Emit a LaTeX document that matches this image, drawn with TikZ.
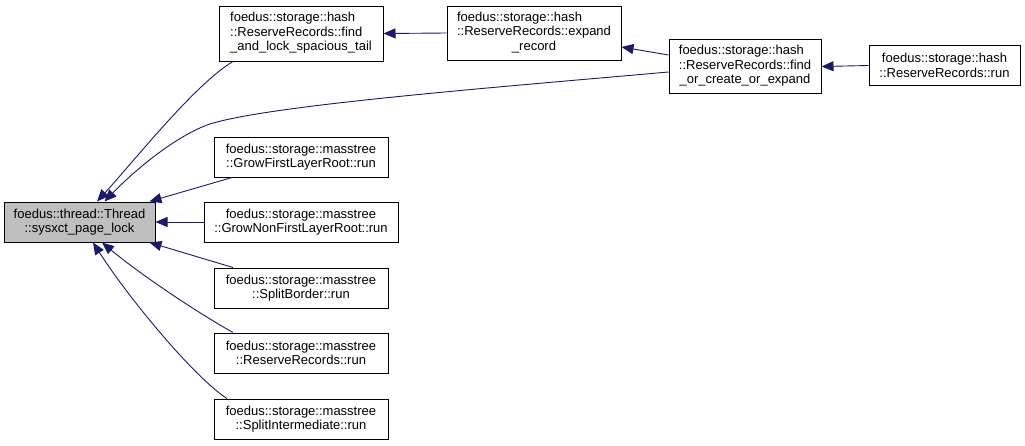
\documentclass[tikz,border=0pt]{standalone}
\usepackage{fontspec}
\setmainfont{Liberation Sans}
\usetikzlibrary{arrows.meta}
\definecolor{edgeblue}{HTML}{191970}
\definecolor{nodegray}{HTML}{BFBFBF}
\tikzset{
  box/.style={draw=black, line width=1pt, fill=white, inner sep=0pt,
    font=\fontsize{13}{14.5}\selectfont, align=center},
  calledge/.style={draw=edgeblue, line width=0.9pt,
    -{Triangle[length=12pt,width=10pt]}},
}
\newcommand{\lastc}[1]{\multicolumn{1}{@{}c@{}}{#1}}
\begin{document}
\begin{tikzpicture}[x=1pt,y=-1pt]
\useasboundingbox (0,0) rectangle (1025,445);
% nodes
\node[box, fill=nodegray, minimum width=151pt, minimum height=40pt] (A) at (79.5,222)
  {foedus::thread::Thread\\::sysxct\_page\_lock};
\node[box, minimum width=164pt, minimum height=55pt] (B) at (301,33.5)
  {\begin{tabular}{@{}l@{}}foedus::storage::hash\\::ReserveRecords::find\\\lastc{\_and\_lock\_spacious\_tail}\end{tabular}};
\node[box, minimum width=174pt, minimum height=54pt] (C) at (534,33)
  {\begin{tabular}{@{}l@{}}foedus::storage::hash\\::ReserveRecords::expand\\\lastc{\_record}\end{tabular}};
\node[box, minimum width=152pt, minimum height=54pt] (D) at (745,66.5)
  {\begin{tabular}{@{}l@{}}foedus::storage::hash\\::ReserveRecords::find\\\lastc{\_or\_create\_or\_expand}\end{tabular}};
\node[box, minimum width=151pt, minimum height=40pt] (E) at (944.5,65.5)
  {foedus::storage::hash\\::ReserveRecords::run};
\node[box, minimum width=174pt, minimum height=40pt] (F) at (301,157)
  {foedus::storage::masstree\\::GrowFirstLayerRoot::run};
\node[box, minimum width=194pt, minimum height=40pt] (G) at (301,222)
  {foedus::storage::masstree\\::GrowNonFirstLayerRoot::run};
\node[box, minimum width=174pt, minimum height=40pt] (H) at (301,288)
  {foedus::storage::masstree\\::SplitBorder::run};
\node[box, minimum width=174pt, minimum height=40pt] (I) at (301,353)
  {foedus::storage::masstree\\::ReserveRecords::run};
\node[box, minimum width=174pt, minimum height=40pt] (J) at (301,419)
  {foedus::storage::masstree\\::SplitIntermediate::run};
% helper coordinates on the node borders (yshift is in page direction: + is up)
\coordinate (Bs) at ([xshift=-68pt]B.south);
\coordinate (Dw1) at ([yshift=11.5pt]D.west);
\coordinate (Dw2) at ([yshift=-5.5pt]D.west);
\coordinate (Fs) at ([xshift=-69pt]F.south);
\coordinate (Hn) at ([xshift=-68pt]H.north);
\coordinate (In) at ([xshift=-68pt]I.north);
\coordinate (Jn) at ([xshift=-74pt]J.north);
\coordinate (At1) at ([xshift=17.5pt]A.north);
\coordinate (At2) at ([xshift=25pt]A.north);
\coordinate (At3) at ([xshift=70pt]A.north);
\coordinate (Ab1) at ([xshift=13.5pt]A.south);
\coordinate (Ab2) at ([xshift=22.5pt]A.south);
\coordinate (Ab3) at ([xshift=70pt]A.south);
\coordinate (Cea) at ([yshift=-14pt]C.east);
% edges
\draw[calledge] (Bs) .. controls (195,84) and (135,160) .. (At1);
\draw[calledge] (Dw2) .. controls (500,87) and (270,105) .. (210,124)
  .. controls (180,134) and (140,165) .. (At2);
\draw[calledge] (Fs) -- (At3);
\draw[calledge] (G.west) -- (A.east);
\draw[calledge] (Hn) -- (Ab3);
\draw[calledge] (In) .. controls (200,314) and (145,278) .. (Ab2);
\draw[calledge] (Jn) .. controls (195,378) and (130,300) .. (Ab1);
\draw[calledge] (C.west) -- (B.east);
\draw[calledge] (Dw1) -- (Cea);
\draw[calledge] (E.west) -- (D.east);
\end{tikzpicture}
\end{document}
